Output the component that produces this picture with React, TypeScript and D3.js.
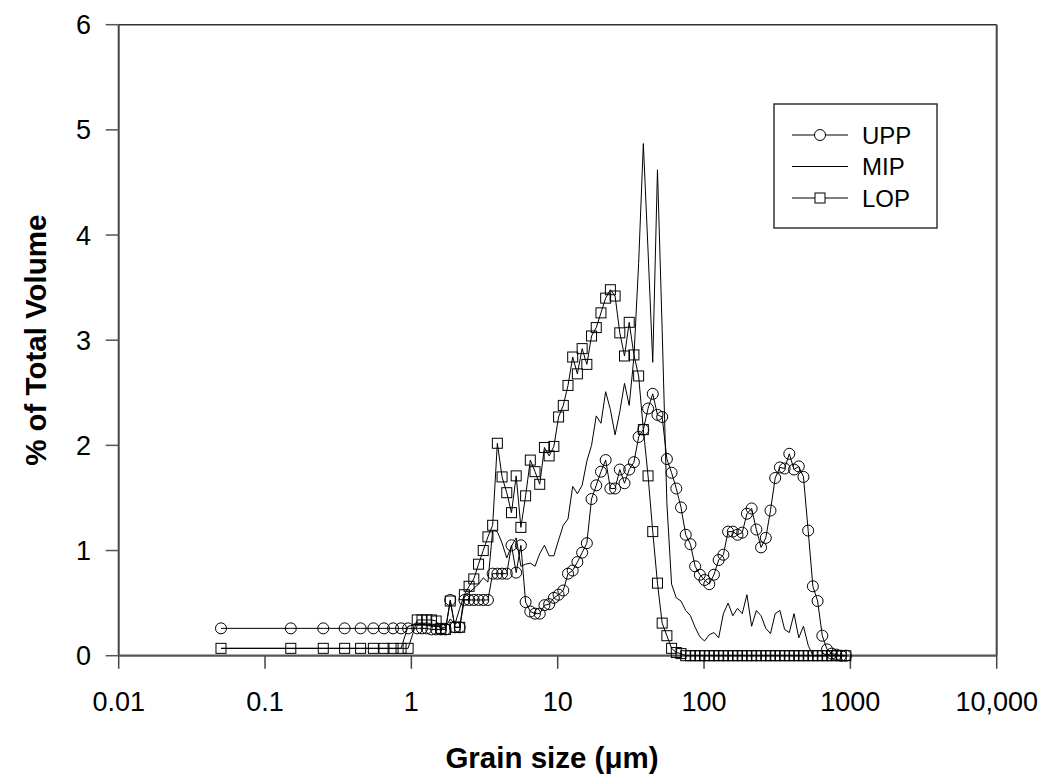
import React from "react";
import * as d3 from "d3";

// grain-size grid (µm): fine bins then instrument channels
const fineSizes = [0.05, 0.15, 0.25, 0.35, 0.45, 0.55, 0.65, 0.75, 0.85, 0.95];
const channelSizes = [
  1.097, 1.182, 1.273, 1.371, 1.476, 1.59, 1.712, 1.844, 1.986, 2.139, 2.303, 2.48, 2.671, 2.877, 3.098, 3.336,
  3.593, 3.869, 4.167, 4.487, 4.832, 5.204, 5.604, 6.035, 6.499, 6.999, 7.537, 8.117, 8.742, 9.414, 10.14, 10.92,
  11.76, 12.66, 13.63, 14.69, 15.82, 17.03, 18.34, 19.75, 21.27, 22.91, 24.67, 26.57, 28.61, 30.81, 33.18, 35.73,
  38.48, 41.44, 44.62, 48.06, 51.75, 55.74, 60.02, 64.64, 69.61, 74.97, 80.73, 86.94, 93.63, 100.8, 108.6, 116.9,
  125.9, 135.6, 146.0, 157.3, 169.3, 182.4, 196.4, 211.5, 227.8, 245.3, 264.2, 284.5, 306.4, 330.0, 355.4, 382.7,
  412.2, 443.9, 478.0, 514.8, 554.4, 597.2, 643.1, 692.6, 745.9, 803.2, 865.0, 931.5,
];

const uppFine = [0.26, 0.26, 0.26, 0.26, 0.26, 0.26, 0.26, 0.26, 0.26, 0.26];
const uppChannels = [
  0.26, 0.26, 0.26, 0.25, 0.25, 0.25, 0.25, 0.53, 0.27, 0.27, 0.53, 0.53, 0.53, 0.53, 0.53, 0.53,
  0.78, 0.78, 0.78, 0.78, 1.05, 0.79, 1.05, 0.51, 0.42, 0.4, 0.4, 0.48, 0.49, 0.55, 0.58, 0.62,
  0.78, 0.81, 0.89, 0.98, 1.07, 1.49, 1.62, 1.75, 1.86, 1.59, 1.59, 1.77, 1.64, 1.77, 1.84, 2.08,
  2.15, 2.35, 2.49, 2.29, 2.27, 1.87, 1.74, 1.59, 1.41, 1.15, 1.06, 0.85, 0.77, 0.72, 0.68, 0.77,
  0.91, 0.96, 1.18, 1.18, 1.15, 1.17, 1.35, 1.4, 1.2, 1.03, 1.12, 1.38, 1.69, 1.79, 1.78, 1.92,
  1.77, 1.8, 1.7, 1.19, 0.66, 0.52, 0.19, 0.06, 0.02, 0.01, 0.0, 0.0,
];

const mipFine = [0.07, 0.07, 0.07, 0.07, 0.07, 0.07, 0.07, 0.07, 0.07, 0.28];
const mipChannels = [
  0.3, 0.3, 0.29, 0.28, 0.28, 0.27, 0.27, 0.35, 0.3, 0.45, 0.58, 0.6, 0.64, 0.68, 0.74, 0.7,
  1.19, 1.18, 1.07, 0.93, 1.04, 1.12, 0.85, 0.87, 0.88, 0.85, 0.97, 1.05, 0.95, 0.95, 1.1, 1.24,
  1.3, 1.61, 1.54, 1.62, 1.85, 2.0, 2.28, 2.21, 2.51, 2.34, 2.1, 2.32, 2.59, 2.38, 2.84, 3.73,
  4.87, 3.85, 2.79, 4.62, 3.1, 1.45, 0.68, 0.55, 0.52, 0.43, 0.38, 0.27, 0.18, 0.14, 0.2, 0.22,
  0.17, 0.4, 0.5, 0.38, 0.45, 0.4, 0.58, 0.28, 0.43, 0.38, 0.26, 0.21, 0.4, 0.43, 0.25, 0.22,
  0.4, 0.17, 0.28, 0.1, 0.0, 0.0, 0.0, 0.0, 0.0, 0.0, 0.0, 0.0,
];

const lopFine = [0.07, 0.07, 0.07, 0.07, 0.07, 0.07, 0.07, 0.07, 0.07, 0.07];
const lopChannels = [
  0.34, 0.34, 0.34, 0.34, 0.33, 0.26, 0.25, 0.52, 0.27, 0.27, 0.58, 0.66, 0.73, 0.87, 1.0, 1.13,
  1.24, 2.02, 1.7, 1.55, 1.36, 1.71, 1.22, 1.52, 1.86, 1.75, 1.63, 1.98, 1.9, 1.99, 2.27, 2.38,
  2.57, 2.84, 2.68, 2.92, 2.77, 3.04, 3.12, 3.26, 3.4, 3.48, 3.42, 3.07, 2.85, 3.17, 2.86, 2.66,
  2.15, 1.71, 1.18, 0.69, 0.31, 0.19, 0.07, 0.03, 0.02, 0.0, 0.0, 0.0, 0.0, 0.0, 0.0, 0.0,
  0.0, 0.0, 0.0, 0.0, 0.0, 0.0, 0.0, 0.0, 0.0, 0.0, 0.0, 0.0, 0.0, 0.0, 0.0, 0.0,
  0.0, 0.0, 0.0, 0.0, 0.0, 0.0, 0.0, 0.0, 0.0, 0.0, 0.0, 0.0,
];

const xTicks = [0.01, 0.1, 1, 10, 100, 1000, 10000];
const xTickLabels = ["0.01", "0.1", "1", "10", "100", "1000", "10,000"];
const yTicks = [0, 1, 2, 3, 4, 5, 6];
const seriesNames = ["UPP", "MIP", "LOP"];

const sizes = [...fineSizes, ...channelSizes];
const uppValues = [...uppFine, ...uppChannels];
const mipValues = [...mipFine, ...mipChannels];
const lopValues = [...lopFine, ...lopChannels];

const W = 1061;
const H = 774;
const L = 118.7;
const R = 996.7;
const T = 24.7;
const B = 655.7;
const FONT = "'Liberation Sans', Arial, Helvetica, sans-serif";

export default function App() {
  const x = d3.scaleLog().domain([0.01, 10000]).range([L, R]);
  const y = d3.scaleLinear().domain([0, 6]).range([B, T]);
  const line = d3
    .line<[number, number]>()
    .x((d) => x(d[0]))
    .y((d) => y(d[1]));

  const upp = sizes.map((s, i) => [s, uppValues[i]] as [number, number]);
  const mip = sizes.map((s, i) => [s, mipValues[i]] as [number, number]);
  const lop = sizes.map((s, i) => [s, lopValues[i]] as [number, number]);

  const r = 5.5;
  const sq = 10;

  const legX0 = 792;
  const legX1 = 848;
  const legYs = [135, 166.5, 198];

  return (
    <svg
      width={W}
      height={H}
      style={{ position: "absolute", left: 0, top: 0, background: "#fff" }}
      fontFamily={FONT}
    >
      <rect x={0} y={0} width={W} height={H} fill="#fff" />
      {/* frame */}
      <line x1={L} x2={R} y1={T} y2={T} stroke="#333" strokeWidth={1.5} />
      <line x1={R} x2={R} y1={T} y2={B} stroke="#444" strokeWidth={2} />
      <line x1={L} x2={L} y1={T} y2={B} stroke="#444" strokeWidth={2} />
      <line x1={L} x2={R} y1={B} y2={B} stroke="#555" strokeWidth={2.2} />
      {/* y ticks */}
      {yTicks.map((t) => (
        <g key={"y" + t}>
          <line x1={L - 13} x2={L} y1={y(t)} y2={y(t)} stroke="#555" strokeWidth={1.5} />
          <text x={91} y={y(t) + 9.5} textAnchor="end" fontSize={27} fill="#000">
            {t}
          </text>
        </g>
      ))}
      {/* x ticks */}
      {xTicks.map((t, i) => (
        <g key={"x" + t}>
          <line x1={x(t)} x2={x(t)} y1={B} y2={B + 13} stroke="#444" strokeWidth={1.5} />
          <text x={x(t)} y={711} textAnchor="middle" fontSize={27} fill="#000">
            {xTickLabels[i]}
          </text>
        </g>
      ))}
      {/* axis titles */}
      <text x={552} y={768} textAnchor="middle" fontSize={29.5} fontWeight="bold" fill="#000">
        Grain size (μm)
      </text>
      <text
        transform={`translate(46, ${(T + B) / 2}) rotate(-90)`}
        textAnchor="middle"
        fontSize={29.5}
        fontWeight="bold"
        fill="#000"
      >
        % of Total Volume
      </text>

      {/* series lines */}
      <path d={line(mip) || ""} fill="none" stroke="#000" strokeWidth={1} />
      <path d={line(lop) || ""} fill="none" stroke="#000" strokeWidth={1} />
      <path d={line(upp) || ""} fill="none" stroke="#000" strokeWidth={1} />
      {/* markers */}
      {lop.map((d, i) => (
        <rect
          key={"l" + i}
          x={x(d[0]) - sq / 2}
          y={y(d[1]) - sq / 2}
          width={sq}
          height={sq}
          fill="none"
          stroke="#000"
          strokeWidth={1}
        />
      ))}
      {upp.map((d, i) => (
        <circle key={"u" + i} cx={x(d[0])} cy={y(d[1])} r={r} fill="none" stroke="#000" strokeWidth={1} />
      ))}

      {/* legend */}
      <rect x={774} y={104} width={163} height={124} fill="#fff" stroke="#333" strokeWidth={1.5} />
      {seriesNames.map((name, i) => (
        <g key={name}>
          <line x1={legX0} x2={legX1} y1={legYs[i]} y2={legYs[i]} stroke="#000" strokeWidth={1} />
          {name === "UPP" && (
            <circle cx={(legX0 + legX1) / 2} cy={legYs[i]} r={r} fill="#fff" stroke="#000" strokeWidth={1} />
          )}
          {name === "LOP" && (
            <rect
              x={(legX0 + legX1) / 2 - sq / 2}
              y={legYs[i] - sq / 2}
              width={sq}
              height={sq}
              fill="#fff"
              stroke="#000"
              strokeWidth={1}
            />
          )}
          <text x={862} y={legYs[i] + 8.5} fontSize={24} fill="#000">
            {name}
          </text>
        </g>
      ))}
    </svg>
  );
}
